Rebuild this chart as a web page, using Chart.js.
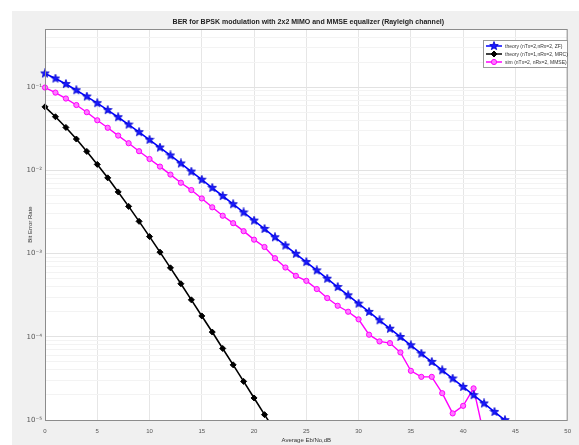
<!DOCTYPE html>
<html>
<head>
<meta charset="utf-8">
<script src="https://cdn.jsdelivr.net/npm/chart.js@4.4.1/dist/chart.umd.min.js"></script>
<style>
  html, body { margin: 0; padding: 0; background: #fff; }
  #wrap { width: 579px; height: 445px; }
</style>
</head>
<body>
<div id="wrap"><canvas id="berChart" width="579" height="445"></canvas></div>
<script>
// Eb/No axis (dB)
const ebNo = [0,1,2,3,4,5,6,7,8,9,10,11,12,13,14,15,16,17,18,19,20,21,22,23,24,25,
  26,27,28,29,30,31,32,33,34,35,36,37,38,39,40,41,42,43,44,45,46,47,48,49,50];

// theory (nTx=2, nRx=2, ZF)
const berZF = [0.146,0.127,0.109,0.0919,0.0771,0.0642,0.0530,0.0435,0.0355,0.0288,
  0.0233,0.0188,0.0151,0.0121,0.00966,0.00772,0.00617,0.00492,0.00392,0.00312,
  0.00249,0.00198,0.00157,0.00125,0.000995,0.000791,0.000628,0.000499,0.000396,0.000315,
  0.00025,0.000199,0.000158,0.000125,0.0000995,0.0000791,0.0000628,0.0000499,0.0000396,0.0000315,
  0.000025,0.0000199,0.0000158,0.0000125,0.00000995,0.0000079,0.0000063,0.000005,0.000004,0.0000032,
  0.0000025];

// theory (nTx=1, nRx=2, MRC)
const berMRC = [0.058,0.0441,0.0328,0.0238,0.0169,0.0118,0.00813,0.00551,0.00369,0.00244,
  0.0016,0.00104,0.000674,0.000434,0.000278,0.000178,0.000114,0.0000724,0.000046,0.0000291,
  0.0000184,0.0000116,0.0000074];

// sim (nTx=2, nRx=2, MMSE)
const berMMSE = [0.099,0.086,0.073,0.061,0.050,0.040,0.0325,0.0262,0.0212,0.0170,
  0.0137,0.0111,0.0089,0.0071,0.0058,0.0046,0.0036,0.00285,0.00232,0.00186,
  0.00147,0.00120,0.00088,0.00068,0.00054,0.00047,0.000375,0.000292,0.000236,0.000200,
  0.000162,0.000106,0.000088,0.000084,0.000065,0.000039,0.000033,0.000033,0.000021,0.000012,
  0.0000148,0.000024,0.0000065];

const xTicks = [0,5,10,15,20,25,30,35,40,45,50];
const yDecades = [1e-5,1e-4,1e-3,1e-2,1e-1];
const yLabels = ['10\u207B\u2075','10\u207B\u2074','10\u207B\u00B3','10\u207B\u00B2','10\u207B\u00B9'];

const legendNames = ['theory (nTx=2,nRx=2, ZF)', 'theory (nTx=1,nRx=2, MRC)', 'sim (nTx=2, nRx=2, MMSE)'];
const chartTitle = 'BER for BPSK modulation with 2x2 MIMO and MMSE equalizer (Rayleigh channel)';

function toPoints(ys) {
  return ys.map((y, i) => ({ x: ebNo[i], y: y }));
}

// filled pentagram marker
function makeStar(size, fill, stroke) {
  const c = document.createElement('canvas');
  c.width = size; c.height = size;
  const g = c.getContext('2d');
  const cx = size / 2, cy = size / 2, ro = size / 2 - 0.5, ri = ro * 0.42;
  g.beginPath();
  for (let i = 0; i < 10; i++) {
    const r = i % 2 ? ri : ro;
    const a = -Math.PI / 2 + i * Math.PI / 5;
    g.lineTo(cx + r * Math.cos(a), cy + r * Math.sin(a));
  }
  g.closePath();
  g.fillStyle = fill; g.fill();
  g.strokeStyle = stroke; g.lineWidth = 0.8; g.stroke();
  return c;
}
const starImg = makeStar(10, '#1a1aff', '#0000cc');

const minorTicks = [];
yDecades.forEach(d => {
  for (let k = 1; k <= 9; k++) {
    const v = d * k;
    if (v <= 0.5 + 1e-12) minorTicks.push(v);
  }
});

const framePlugin = {
  id: 'frame',
  beforeDraw(chart) {
    const { ctx, chartArea: a } = chart;
    ctx.save();
    ctx.fillStyle = '#f0f0f0';
    ctx.fillRect(12, 11, chart.width - 12, chart.height - 11);
    ctx.fillStyle = '#ffffff';
    ctx.fillRect(a.left, a.top, a.right - a.left, a.bottom - a.top);
    ctx.restore();
  },
  afterDraw(chart) {
    const { ctx, chartArea: a } = chart;
    ctx.save();
    // axes box
    ctx.strokeStyle = '#8c8c8c';
    ctx.lineWidth = 1;
    ctx.strokeRect(a.left + 0.5, a.top + 0.5, a.right - a.left - 1, a.bottom - a.top);
    // title
    ctx.fillStyle = '#222';
    ctx.font = 'bold 7px "Liberation Sans Narrow", "Liberation Sans", sans-serif';
    ctx.textAlign = 'center';
    ctx.textBaseline = 'middle';
    ctx.fillText(chartTitle, (a.left + a.right) / 2 + 2, 22);
    // legend
    const bx = 483, by = 40, bw = 84, bh = 27;
    ctx.fillStyle = '#fff';
    ctx.fillRect(bx, by, bw, bh);
    ctx.strokeStyle = '#9a9a9a';
    ctx.strokeRect(bx + 0.5, by + 0.5, bw, bh);
    const ds = chart.data.datasets;
    ctx.font = '5px "Liberation Sans Narrow", "Liberation Sans", sans-serif';
    ctx.textAlign = 'left';
    for (let i = 0; i < ds.length; i++) {
      const ry = by + 6 + i * 8;
      const lx = bx + 3;
      ctx.strokeStyle = ds[i].borderColor;
      ctx.lineWidth = 1.5;
      ctx.beginPath();
      ctx.moveTo(lx, ry); ctx.lineTo(lx + 16, ry);
      ctx.stroke();
      ctx.fillStyle = ds[i].backgroundColor;
      ctx.lineWidth = 1;
      Chart.helpers.drawPoint(ctx, {
        pointStyle: ds[i].pointStyle,
        radius: ds[i].pointRadius,
        borderWidth: 1,
        rotation: 0
      }, lx + 8, ry);
      ctx.fillStyle = '#333';
      ctx.fillText(legendNames[i], lx + 19, ry + 0.5);
    }
    ctx.restore();
  }
};

const ctx = document.getElementById('berChart').getContext('2d');
new Chart(ctx, {
  type: 'line',
  data: {
    datasets: [
      {
        label: legendNames[0],
        data: toPoints(berZF),
        borderColor: '#0000ff',
        backgroundColor: '#1a1aff',
        borderWidth: 1.6,
        pointStyle: starImg,
        pointRadius: 4.5,
        clip: { left: 8, top: 8, right: 8, bottom: 0 }
      },
      {
        label: legendNames[1],
        data: toPoints(berMRC),
        borderColor: '#000000',
        backgroundColor: '#000000',
        borderWidth: 1.6,
        pointStyle: 'rectRot',
        pointRadius: 3,
        pointBorderWidth: 1,
        clip: { left: 8, top: 8, right: 8, bottom: 0 }
      },
      {
        label: legendNames[2],
        data: toPoints(berMMSE),
        borderColor: '#ff00ff',
        backgroundColor: '#ff7aff',
        borderWidth: 1.4,
        pointStyle: 'circle',
        pointRadius: 2.6,
        pointBorderWidth: 1,
        clip: { left: 8, top: 8, right: 8, bottom: 0 }
      }
    ]
  },
  options: {
    responsive: false,
    animation: false,
    devicePixelRatio: 1,
    layout: { padding: { top: 29, right: 8, left: 0, bottom: 0 } },
    plugins: {
      legend: { display: false },
      title: { display: false },
      tooltip: { enabled: false }
    },
    elements: { line: { tension: 0 } },
    scales: {
      x: {
        type: 'linear',
        min: 0,
        max: 50,
        afterBuildTicks: s => { s.ticks = xTicks.map(v => ({ value: v })); },
        afterFit: s => { s.height = 25; },
        ticks: {
          color: '#555',
          font: { size: 6, family: 'Liberation Sans' },
          padding: 8,
          maxRotation: 0
        },
        grid: { color: '#e6e6e6', drawTicks: false },
        border: { display: false },
        title: {
          display: true,
          text: 'Average Eb/No,dB',
          color: '#333',
          font: { size: 6, family: 'Liberation Sans' },
          padding: { top: 0, bottom: 1 }
        }
      },
      y: {
        type: 'logarithmic',
        min: 1e-5,
        max: 0.5,
        afterBuildTicks: s => { s.ticks = minorTicks.map(v => ({ value: v })); },
        afterFit: s => { s.width = 45; },
        ticks: {
          autoSkip: false,
          color: '#555',
          font: { size: 7, family: 'DejaVu Sans' },
          padding: 3,
          callback: v => {
            const i = yDecades.findIndex(d => Math.abs(d - v) / d < 1e-6);
            return i >= 0 ? yLabels[i] : '';
          }
        },
        grid: {
          drawTicks: false,
          color: c => {
            const v = c.tick ? c.tick.value : 0;
            const dec = yDecades.some(d => Math.abs(d - v) / d < 1e-6);
            return dec ? '#e2e2e2' : '#f3f3f3';
          }
        },
        border: { display: false },
        title: {
          display: true,
          text: 'Bit Error Rate',
          color: '#333',
          font: { size: 6, family: 'Liberation Sans' },
          padding: { top: 27, bottom: 0 }
        }
      }
    }
  },
  plugins: [framePlugin]
});
</script>
</body>
</html>
